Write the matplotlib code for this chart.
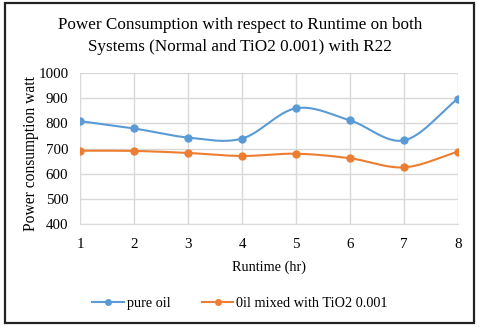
import numpy as np
import matplotlib
matplotlib.use("Agg")
import matplotlib.pyplot as plt
from matplotlib.patches import Rectangle

plt.rcParams['font.family'] = ['Liberation Serif', 'DejaVu Serif']

runtime = [1, 2, 3, 4, 5, 6, 7, 8]
pure_oil = [809, 780, 744, 740, 860, 812, 733, 898]
oil_tio2 = [692, 691, 683, 671, 680, 662, 626, 688]


def suavizar(x, y, n=30):
    # curva tipo Excel (Catmull-Rom) entre los puntos
    x = np.asarray(x, float)
    y = np.asarray(y, float)
    px = np.concatenate([[2 * x[0] - x[1]], x, [2 * x[-1] - x[-2]]])
    py = np.concatenate([[2 * y[0] - y[1]], y, [2 * y[-1] - y[-2]]])
    xs, ys = [], []
    t = np.linspace(0, 1, n)
    for i in range(1, len(px) - 2):
        for p, out in ((px, xs), (py, ys)):
            p0, p1, p2, p3 = p[i - 1], p[i], p[i + 1], p[i + 2]
            c1 = p1 + (p2 - p0) / 6
            c2 = p2 - (p3 - p1) / 6
            out.extend((1 - t) ** 3 * p1 + 3 * (1 - t) ** 2 * t * c1
                       + 3 * (1 - t) * t ** 2 * c2 + t ** 3 * p2)
    return np.array(xs), np.array(ys)


azul = '#5b9bd5'
naranja = '#ed7d31'

fig = plt.figure(figsize=(4.8, 3.3), dpi=100)
ax = fig.add_axes([0.167, 0.32, 0.787, 0.459])

for y, color, nombre in ((pure_oil, azul, 'pure oil'),
                         (oil_tio2, naranja, '0il mixed with TiO2 0.001')):
    xs, ys = suavizar(runtime, y)
    ax.plot(xs, ys, color=color, lw=1.5, zorder=3)
    ax.plot(runtime, y, 'o', color=color, ms=5, zorder=4)
    ax.plot([], [], '-o', color=color, lw=1.5, ms=4, label=nombre)

ax.set_xlim(1, 8)
ax.set_ylim(400, 1000)
ax.set_xticks(runtime)
ax.set_yticks(np.arange(400, 1001, 100))
ax.grid(True, color='#d9d9d9', lw=1)
ax.set_axisbelow(True)
for s in ['top', 'right', 'left']:
    ax.spines[s].set_visible(False)
ax.spines['bottom'].set_color('#d9d9d9')
ax.tick_params(length=0, labelsize=10.8)
ax.tick_params(axis='y', pad=8.5)
ax.tick_params(axis='x', pad=10)
ax.set_xlabel('Runtime (hr)', fontsize=10.3, labelpad=6.5)
ax.set_ylabel('Power consumption watt', fontsize=11.2)
ax.yaxis.set_label_coords(-0.108, 0.467)

fig.suptitle('Power Consumption with respect to Runtime on both\n'
             'Systems (Normal and TiO2 0.001) with R22',
             fontsize=12.3, y=0.948, linespacing=1.5)

fig.legend(loc='center', bbox_to_anchor=(0.5, 0.079), ncol=2, frameon=False,
           fontsize=10.3, handlelength=2.2, handletextpad=0.2, columnspacing=2.2)

fig.patches.append(Rectangle((0.011, 0.022), 0.976, 0.97, transform=fig.transFigure,
                             fill=False, ec='#222222', lw=1.6))

fig.savefig('out.png', dpi=100)
